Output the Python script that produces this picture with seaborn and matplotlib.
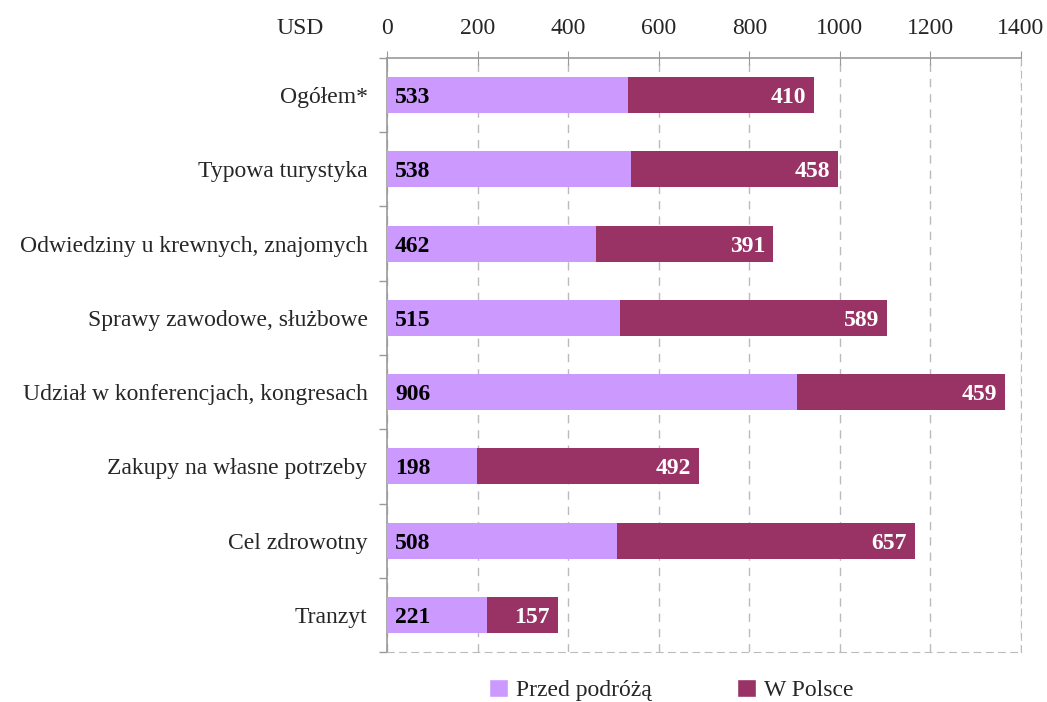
import numpy as np
import pandas as pd
import matplotlib
matplotlib.use("Agg")
import matplotlib.pyplot as plt
from matplotlib.patches import Patch
import seaborn as sns

# data
categories = ["Ogółem*", "Typowa turystyka", "Odwiedziny u krewnych, znajomych",
              "Sprawy zawodowe, służbowe", "Udział w konferencjach, kongresach",
              "Zakupy na własne potrzeby", "Cel zdrowotny", "Tranzyt"]
przed = [533, 538, 462, 515, 906, 198, 508, 221]
w_polsce = [410, 458, 391, 589, 459, 492, 657, 157]

light = "#CC99FF"
dark = "#993366"

df = pd.DataFrame({"cat": categories, "przed": przed, "polska": w_polsce})
df["total"] = df["przed"] + df["polska"]

sns.set_style("white")
plt.rcParams["font.family"] = ["Liberation Serif", "DejaVu Serif"]

fig = plt.figure(figsize=(10.47, 7.02), dpi=100)
ax = fig.add_axes([0.3696, 0.0712, 0.6056, 0.8462])

# stacked: draw totals first, then the first segment on top
sns.barplot(data=df, x="total", y="cat", color=dark, saturation=1, width=0.485,
            orient="h", ax=ax, zorder=3, linewidth=0)
sns.barplot(data=df, x="przed", y="cat", color=light, saturation=1, width=0.485,
            orient="h", ax=ax, zorder=4, linewidth=0)

for i, row in df.iterrows():
    ax.text(18, i, str(row["przed"]), ha="left", va="center_baseline", fontsize=17,
            fontweight="bold", color="black", zorder=5)
    ax.text(row["total"] - 18, i, str(row["polska"]), ha="right", va="center_baseline",
            fontsize=17, fontweight="bold", color="white", zorder=5)

ax.set_xlim(0, 1400)
ax.set_ylim(len(categories) - 0.5, -0.5)
ax.set_xticks(np.arange(0, 1401, 200))
ax.xaxis.tick_top()
ax.tick_params(axis="x", which="major", top=True, direction="inout", length=10,
               color="#999999", labelsize=17, pad=9)
ax.tick_params(axis="y", which="major", length=0, labelsize=17, pad=14)
ax.set_yticks(np.arange(-0.5, len(categories), 1), minor=True)
ax.tick_params(axis="y", which="minor", left=True, direction="out", length=6,
               width=1, color="#999999")
ax.set_xlabel("")
ax.set_ylabel("")

ax.grid(axis="x", color="#BBBBBB", linestyle=(0, (6, 5)), linewidth=1, zorder=0)
ax.grid(axis="y", visible=False)
ax.set_axisbelow(True)

for s in ["top", "left"]:
    ax.spines[s].set_color("#999999")
    ax.spines[s].set_linewidth(1.2)
ax.spines["bottom"].set_color("#BBBBBB")
ax.spines["bottom"].set_linestyle((0, (6, 5)))
ax.spines["right"].set_color("#BBBBBB")
ax.spines["right"].set_linestyle((0, (6, 5)))

fig.text(0.2865, 0.9625, "USD", fontsize=17, ha="center", va="center_baseline")

handles = [Patch(facecolor=light, label="Przed podróżą"),
           Patch(facecolor=dark, label="W Polsce")]
fig.legend(handles=handles, loc="center", bbox_to_anchor=(0.641, 0.017), ncol=2,
           frameon=False, fontsize=17, handlelength=0.8, handleheight=0.8,
           handletextpad=0.35, columnspacing=3.6)

fig.savefig("out.png", dpi=100)
